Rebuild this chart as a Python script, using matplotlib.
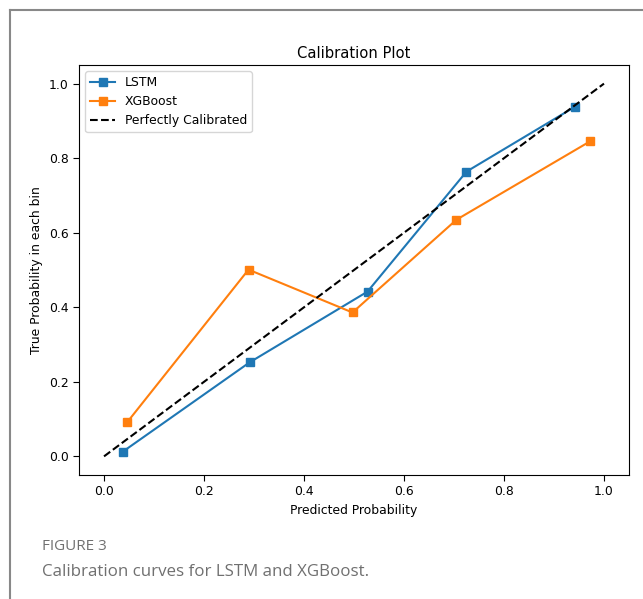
import matplotlib.pyplot as plt
from matplotlib.lines import Line2D

plt.rcParams["font.family"] = "DejaVu Sans"

# mean predicted probability / fraction of positives per bin
lstm_pred = [0.038, 0.291, 0.527, 0.725, 0.942]
lstm_true = [0.013, 0.252, 0.442, 0.764, 0.938]
xgb_pred = [0.046, 0.289, 0.497, 0.705, 0.972]
xgb_true = [0.091, 0.501, 0.386, 0.635, 0.845]
diag = [0, 1]

fig = plt.figure(figsize=(6.43, 5.99), dpi=100)
ax = fig.add_axes([0.1229, 0.2070, 0.8553, 0.6845])

ax.plot(lstm_pred, lstm_true, marker="s", color="#1f77b4", lw=1.5, ms=6, label="LSTM")
ax.plot(xgb_pred, xgb_true, marker="s", color="#ff7f0e", lw=1.5, ms=6, label="XGBoost")
ax.plot(diag, diag, "k--", lw=1.5, label="Perfectly Calibrated")

ax.set_xlim(-0.05, 1.05)
ax.set_ylim(-0.05, 1.05)
ax.set_xticks([0.0, 0.2, 0.4, 0.6, 0.8, 1.0])
ax.set_yticks([0.0, 0.2, 0.4, 0.6, 0.8, 1.0])
ax.tick_params(labelsize=8.9, length=4)
ax.set_xlabel("Predicted Probability", fontsize=8.9)
ax.set_ylabel("True Probability in each bin", fontsize=8.9)
ax.set_title("Calibration Plot", fontsize=10.6, pad=5)
ax.legend(loc="upper left", fontsize=8.9)

# card frame around the figure
fig.add_artist(Line2D([10 / 643, 10 / 643], [0, 1 - 10 / 599], color="#888888", lw=1.5))
fig.add_artist(Line2D([10 / 643, 1], [1 - 10 / 599, 1 - 10 / 599], color="#888888", lw=1.5))

fig.text(42 / 643, 1 - 547 / 599, "FIGURE 3", fontsize=11, color="#707070",
         family="Open Sans", va="center")
fig.text(42 / 643, 1 - 572 / 599, "Calibration curves for LSTM and XGBoost.", fontsize=12.2,
         color="#707070", family="Open Sans", va="center")

fig.savefig("out.png", dpi=100)
